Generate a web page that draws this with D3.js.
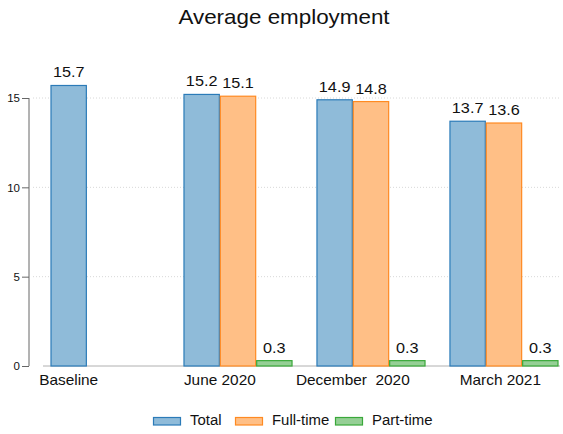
<!DOCTYPE html>
<html><head><meta charset="utf-8">
<script src="https://cdn.jsdelivr.net/npm/d3@7"></script>
<style>
html,body{margin:0;padding:0;background:#fff;}
svg{display:block;font-family:"Liberation Sans",Arial,sans-serif;}
</style></head>
<body>
<svg id="c" width="563" height="434"></svg>
<script>
const categories = ["Baseline", "June 2020", "December \u00a02020", "March 2021"];
const seriesNames = ["Total", "Full-time", "Part-time"];
const totalValues = [15.7, 15.2, 14.9, 13.7];
const fullTimeValues = [null, 15.1, 14.8, 13.6];
const partTimeValues = [null, 0.3, 0.3, 0.3];
const yTicks = [0, 5, 10, 15];
const title = "Average employment";

const fills = ["#8fbbd9", "#ffbf86", "#95cf95"];
const strokes = ["#2b7bb8", "#ff8a22", "#3aa83a"];
const series = [totalValues, fullTimeValues, partTimeValues];

const svg = d3.select("#c");
const x = d3.scaleBand().domain(categories).range([50.5, 558.5]).paddingInner(0.18).paddingOuter(0);
const xs = d3.scaleBand().domain(seriesNames).range([0, x.bandwidth()]).padding(0);
const y = d3.scaleLinear().domain([0, 15]).range([366, 98]);

function stext(g, tx, ty, str, size, sx, anchor) {
  const gg = g.append("g").attr("transform", `translate(${tx},${ty}) scale(${sx},1)`);
  return gg.append("text").attr("text-anchor", anchor || "middle").attr("font-size", size)
    .attr("fill", "#111").style("white-space", "pre").text(str);
}

// title
stext(svg, 284, 24, title, 20, 1.12);

// gridlines
svg.append("g").selectAll("line").data(yTicks.filter(d => d > 0)).join("line")
  .attr("x1", 33).attr("x2", 560).attr("y1", d => y(d)).attr("y2", d => y(d))
  .attr("stroke", "#d8d8d8").attr("stroke-width", 1).attr("stroke-dasharray", "1,2");

// x axis line
svg.append("line").attr("x1", 43).attr("x2", 560).attr("y1", 366).attr("y2", 366)
  .attr("stroke", "#b0b0b0").attr("stroke-width", 1);

// y axis
const yAxis = d3.axisLeft(y).tickValues(yTicks).tickSize(7).tickPadding(2).tickFormat(d3.format("d"));
const yg = svg.append("g").attr("transform", "translate(29,0)").call(yAxis);
yg.select(".domain").attr("stroke", "#666").attr("d", `M0,${y(0)}V${y(15)}`);
yg.selectAll(".tick line").attr("stroke", "#666");
yg.selectAll(".tick text").attr("font-size", 11.5).attr("fill", "#111").attr("font-family", "Liberation Sans,Arial,sans-serif");

// bars
const groups = svg.append("g").selectAll("g").data(categories).join("g")
  .attr("transform", d => `translate(${x(d)},0)`);
groups.each(function(cat, ci) {
  const g = d3.select(this);
  seriesNames.forEach((s, si) => {
    const v = series[si][ci];
    if (v == null) return;
    g.append("rect")
      .attr("x", xs(s) + 0.5).attr("y", y(v))
      .attr("width", xs.bandwidth() - 1).attr("height", y(0) - y(v))
      .attr("fill", fills[si]).attr("stroke", strokes[si]).attr("stroke-width", 1.2);
    stext(g, xs(s) + xs.bandwidth() / 2, y(v) - 8, v.toFixed(1), 14.5, 1.12);
  });
});

// category labels (anchor offset within each group)
const labelOffsets = [0.5, 1.0, 1.0, 1.4];
categories.forEach((c, i) => {
  stext(svg, x(c) + xs.bandwidth() * labelOffsets[i], 385, c, 14, 1.1);
});

// legend
const legendX = [153, 235, 335];
seriesNames.forEach((s, i) => {
  svg.append("rect").attr("x", legendX[i] + 0.5).attr("y", 417.5).attr("width", 27).attr("height", 7.5)
    .attr("fill", fills[i]).attr("stroke", strokes[i]).attr("stroke-width", 1.2);
  stext(svg, legendX[i] + 37, 425, s, 14.5, 1.03, "start");
});
</script>
</body></html>
